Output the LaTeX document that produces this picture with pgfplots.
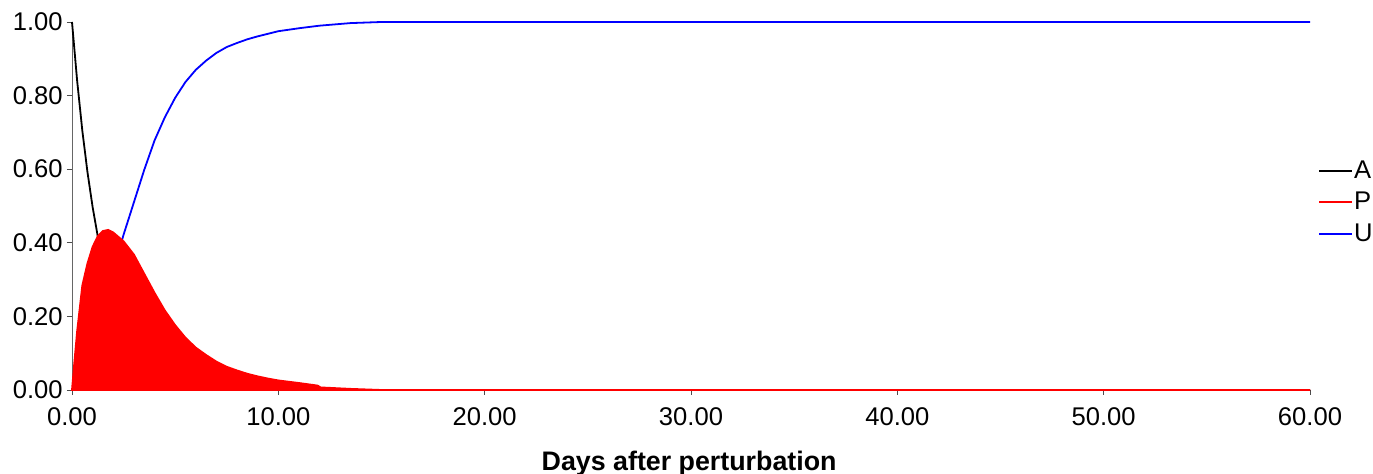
\documentclass[border=0pt]{standalone}
\usepackage{pgfplots}
\usepackage{pgfplotstable}
\pgfplotsset{compat=1.18}
\usepackage{fontspec}
\setmainfont{Liberation Sans}

\pgfplotstableread{
x y
0 1.000
0.25 0.840
0.5 0.705
0.75 0.592
1 0.497
1.25 0.417
1.5 0.350
1.75 0.294
2 0.247
2.5 0.174
3 0.123
3.5 0.086
4 0.061
4.5 0.043
5 0.030
5.5 0.021
6 0.015
7 0.007
8 0.004
9 0.002
10 0.001
12 0.000
60 0.000
}\tabA

\pgfplotstableread{
x y
0 0.000
0.1 0.066
0.25 0.160
0.5 0.284
0.75 0.344
1 0.389
1.25 0.418
1.5 0.432
1.75 0.435
2 0.428
2.5 0.404
3 0.368
3.5 0.316
4 0.264
4.5 0.216
5 0.176
5.5 0.142
6 0.115
6.5 0.095
7 0.077
7.5 0.063
8 0.053
8.5 0.044
9 0.037
9.5 0.031
10 0.026
11 0.019
11.9 0.012
12.05 0.007
13.5 0.003
15 0.000
60 0.000
}\tabP

\pgfplotstableread{
x y
0 0.000
0.1 0.003
0.25 0.004
0.5 0.011
0.75 0.064
1 0.114
1.25 0.165
1.5 0.218
1.75 0.271
2 0.325
2.5 0.422
3 0.510
3.5 0.598
4 0.678
4.5 0.741
5 0.794
5.5 0.837
6 0.870
6.5 0.895
7 0.916
7.5 0.932
8 0.943
8.5 0.953
9 0.961
9.5 0.968
10 0.975
11 0.983
12 0.990
13.5 0.997
15 1.000
60 1.000
}\tabU

\begin{document}
\begin{tikzpicture}
\useasboundingbox (-36pt,-42pt) rectangle (650.5pt,195pt);
\begin{axis}[
  at={(0,0)}, anchor=south west,
  scale only axis, width=619pt, height=184pt,
  xmin=0, xmax=60, ymin=0, ymax=1,
  xtick={0,10,20,30,40,50,60},
  ytick={0,0.2,0.4,0.6,0.8,1},
  axis x line*=bottom, axis y line*=left,
  tick align=outside, major tick length=2.5pt,
  tick style={black!70, thin},
  axis line style={black!60, thin},
  clip=false,
  /pgf/number format/.cd, fixed, fixed zerofill, precision=2, assume math mode=true,
  /pgfplots/.cd,
  tick label style={font=\fontsize{12.8}{15}\selectfont},
  xticklabel style={anchor=base, inner sep=0pt, yshift=-15.5pt},
  yticklabel style={anchor=east, inner sep=0pt, xshift=-2pt},
  xlabel={\bfseries Days after perturbation},
  xlabel style={at={(axis description cs:0.4985,0)}, anchor=base, inner sep=0pt, yshift=-40.5pt, font=\fontsize{13.4}{15}\selectfont},
  legend style={at={(axis description cs:1,0.51)}, anchor=west, xshift=4pt, draw=none, fill=none,
    inner sep=0pt, row sep=4.5pt, font=\fontsize{12.8}{15}\selectfont,
    nodes={inner sep=0.5pt}},
  legend cell align=left,
  legend image code/.code={\draw[#1] (0pt,0pt) -- (16.5pt,0pt);},
]
\addlegendimage{black, line width=0.9pt}
\addlegendentry{A}
\addlegendimage{red, line width=0.9pt}
\addlegendentry{P}
\addlegendimage{blue, line width=0.9pt}
\addlegendentry{U}
\addplot[black, line width=0.9pt, forget plot] table {\tabA};
\addplot[blue, line width=0.9pt, forget plot] table {\tabU};
\addplot[red, line width=0.9pt, fill=red, forget plot] table {\tabP} \closedcycle;
\end{axis}
\end{tikzpicture}
\end{document}
